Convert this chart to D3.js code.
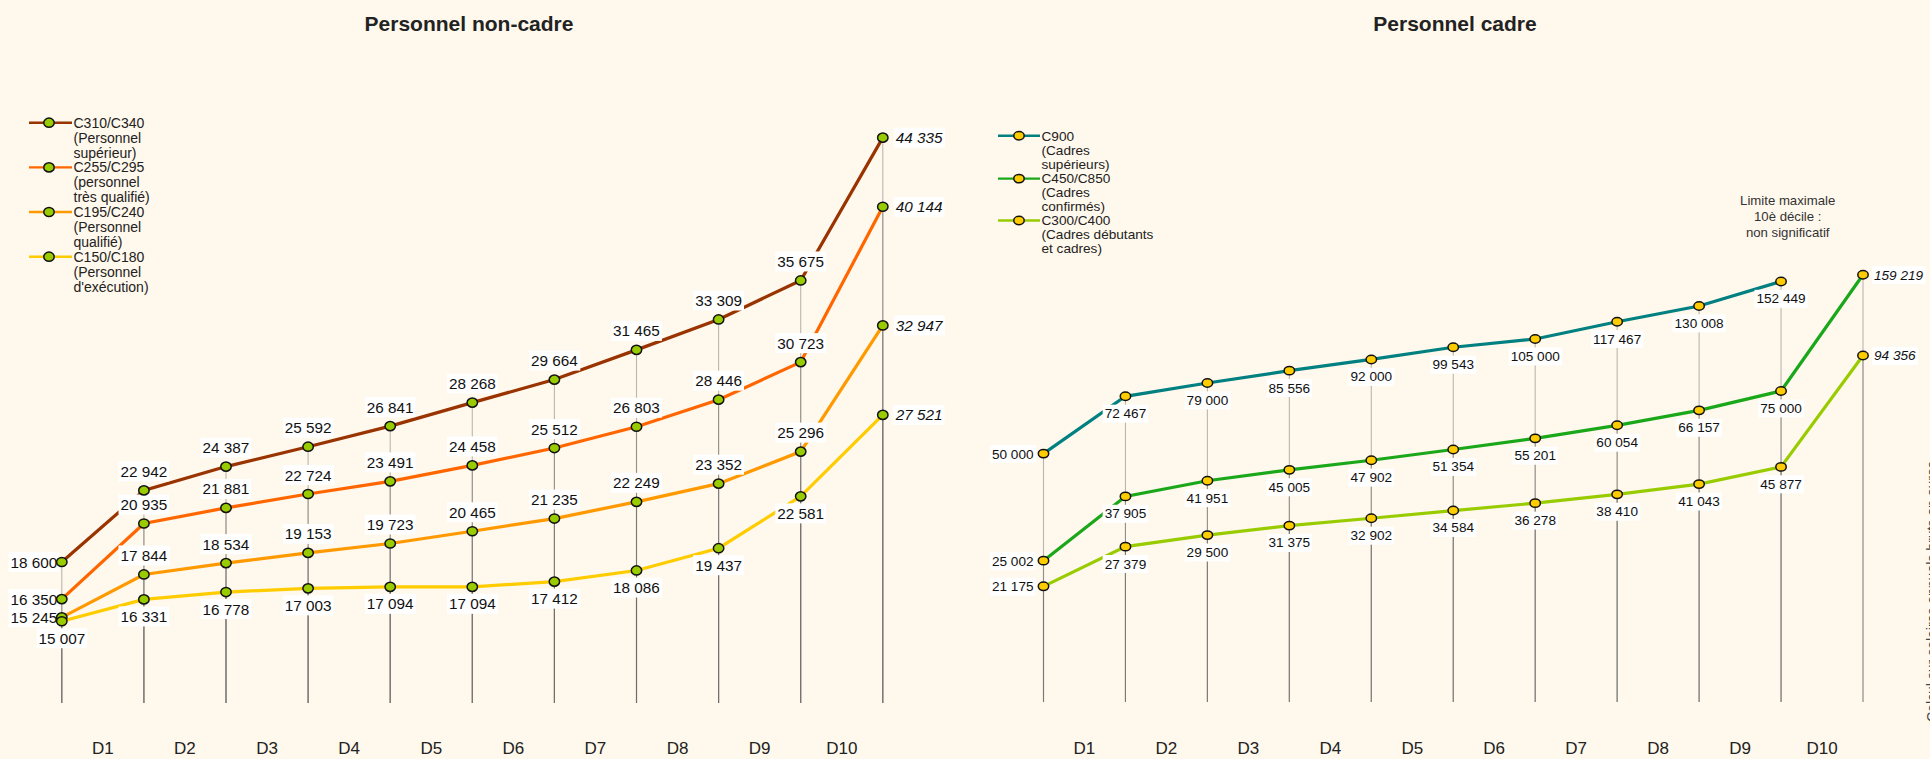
<!DOCTYPE html>
<html><head><meta charset="utf-8">
<script src="https://cdn.jsdelivr.net/npm/d3@7"></script>
<style>
body{margin:0;background:#fff8ec}
svg{display:block}
text{font-family:"Liberation Sans",Arial,sans-serif}
</style>
</head><body>
<svg id="chart" width="1930" height="759"></svg>
<script>
// ---------- DATA ----------
const deciles = ["D1","D2","D3","D4","D5","D6","D7","D8","D9","D10"];

const nonCadreTitle = "Personnel non-cadre";
const cadreTitle = "Personnel cadre";

const c310Label = ["C310/C340", "(Personnel", "supérieur)"];
const c310Values = [18600, 22942, 24387, 25592, 26841, 28268, 29664, 31465, 33309, 35675, 44335];
const c255Label = ["C255/C295", "(personnel", "très qualifié)"];
const c255Values = [16350, 20935, 21881, 22724, 23491, 24458, 25512, 26803, 28446, 30723, 40144];
const c195Label = ["C195/C240", "(Personnel", "qualifié)"];
const c195Values = [15245, 17844, 18534, 19153, 19723, 20465, 21235, 22249, 23352, 25296, 32947];
const c150Label = ["C150/C180", "(Personnel", "d'exécution)"];
const c150Values = [15007, 16331, 16778, 17003, 17094, 17094, 17412, 18086, 19437, 22581, 27521];

const c900Label = ["C900", "(Cadres", "supérieurs)"];
const c900Values = [50000, 72467, 79000, 85556, 92000, 99543, 105000, 117467, 130008, 152449, null];
const c450Label = ["C450/C850", "(Cadres", "confirmés)"];
const c450Values = [25002, 37905, 41951, 45005, 47902, 51354, 55201, 60054, 66157, 75000, 159219];
const c300Label = ["C300/C400", "(Cadres débutants", "et cadres)"];
const c300Values = [21175, 27379, 29500, 31375, 32902, 34584, 36278, 38410, 41043, 45877, 94356];

const noteLines = ["Limite maximale", "10è décile :", "non significatif"];
const sideNote = "Calcul sur salaires annuels bruts en euros";

// ---------- DRAW ----------
const svg = d3.select("#chart");
svg.append("rect").attr("width",1930).attr("height",759).attr("fill","#fff8ec");
const fmt = d3.formatLocale({decimal:",", thousands:" ", grouping:[3], currency:["","€"]}).format(",d");

function panel(opt){
  const g = svg.append("g");
  const x = d3.scaleLinear().domain([0, 10]).range(opt.xRange);
  const y = opt.y;

  g.append("text").attr("x", opt.titleX).attr("y", 31).attr("text-anchor","middle")
    .attr("font-size", 21).attr("font-weight","bold").attr("fill","#222").text(opt.title);

  // drop lines
  opt.series.forEach(s => {
    s.values.forEach((v,i) => {
      if (v == null) return;
      g.append("line").attr("x1", x(i)).attr("x2", x(i)).attr("y1", y(v)).attr("y2", opt.bottom)
        .attr("stroke", "#5a5a5a").attr("stroke-opacity", 0.42).attr("stroke-width", 1.1);
    });
  });

  // series lines
  const line = d3.line().defined(d => d.v != null).x(d => x(d.i)).y(d => y(d.v));
  opt.series.forEach(s => {
    g.append("path").datum(s.values.map((v,i)=>({i, v})))
      .attr("d", line).attr("fill","none").attr("stroke", s.color).attr("stroke-width", 3.2);
  });

  // value labels
  opt.series.forEach(s => {
    s.values.forEach((v,i) => {
      if (v == null) return;
      let pos = s.pos, italic = false;
      if (i === 0) pos = s.firstPos;
      if (i === 10) { pos = "right"; italic = true; }
      const px = x(i), py = y(v);
      const lg = g.append("g");
      const t = lg.append("text").attr("font-size", opt.labelSize).attr("fill","#111")
        .attr("font-style", italic ? "italic" : "normal").text(fmt(v));
      const half = opt.labelSize * 0.36;
      if (pos === "above") t.attr("x", px).attr("y", py - 19 + half).attr("text-anchor","middle");
      else if (pos === "below") t.attr("x", px).attr("y", py + 17 + half).attr("text-anchor","middle");
      else if (pos === "left") t.attr("x", px - opt.leftGap).attr("y", py + half).attr("text-anchor","end");
      else t.attr("x", px + opt.rightGap).attr("y", py + half).attr("text-anchor","start");
      const bb = t.node().getBBox();
      lg.insert("rect","text").attr("x", bb.x - 2).attr("y", bb.y - 1.5)
        .attr("width", bb.width + 4).attr("height", bb.height + 3).attr("fill","#ffffff");
    });
  });

  // markers
  opt.series.forEach(s => {
    s.values.forEach((v,i) => {
      if (v == null) return;
      g.append("ellipse").attr("cx", x(i)).attr("cy", y(v)).attr("rx", opt.mrx).attr("ry", opt.mry)
        .attr("fill", opt.markerFill).attr("stroke","#111").attr("stroke-width", 1.5);
    });
  });

  // decile labels
  deciles.forEach((d,i) => {
    g.append("text").attr("x", x(i + 0.5)).attr("y", 754).attr("text-anchor","middle")
      .attr("font-size", 17).attr("fill","#222").text(d);
  });

  // legend
  opt.series.forEach((s,k) => {
    const ly = opt.legend.y[k];
    g.append("line").attr("x1", opt.legend.x0).attr("x2", opt.legend.x1).attr("y1", ly).attr("y2", ly)
      .attr("stroke", s.color).attr("stroke-width", 2.4);
    g.append("ellipse").attr("cx", opt.legend.mx).attr("cy", ly).attr("rx", opt.mrx).attr("ry", opt.mry)
      .attr("fill", opt.markerFill).attr("stroke","#111").attr("stroke-width", 1.5);
    const t = g.append("text").attr("font-size", opt.legend.size).attr("fill","#222");
    s.label.forEach((l,j) => {
      t.append("tspan").attr("x", opt.legend.tx).attr("y", ly + opt.legend.size*0.36 + j*opt.legend.lh).text(l);
    });
  });
  return {x, y};
}

panel({
  title: nonCadreTitle, titleX: 469,
  xRange: [61.8, 882.8],
  y: d3.scaleLinear().domain([10000, 45000]).range([703.8, 126.7]),
  bottom: 703,
  labelSize: 15.3, leftGap: 4.5, rightGap: 13,
  mrx: 5.2, mry: 4.6, markerFill: "#99cc00",
  series: [
    {label: c310Label, values: c310Values, color: "#993300", pos: "above", firstPos: "left"},
    {label: c255Label, values: c255Values, color: "#ff6600", pos: "above", firstPos: "left"},
    {label: c195Label, values: c195Values, color: "#ff9900", pos: "above", firstPos: "left"},
    {label: c150Label, values: c150Values, color: "#ffcc00", pos: "below", firstPos: "below"}
  ],
  legend: {x0: 29, x1: 72, mx: 49, tx: 73.5, y: [122.7, 167.4, 212, 256.7], size: 14, lh: 14.9}
});

const right = panel({
  title: cadreTitle, titleX: 1455,
  xRange: [1043.5, 1863],
  y: d3.scaleLog().domain([10000, 200000]).range([702.2, 239.5]),
  bottom: 702,
  labelSize: 13.6, leftGap: 10, rightGap: 11,
  mrx: 5.2, mry: 4.2, markerFill: "#ffcc00",
  series: [
    {label: c900Label, values: c900Values, color: "#008080", pos: "below", firstPos: "left"},
    {label: c450Label, values: c450Values, color: "#1aa81a", pos: "below", firstPos: "left"},
    {label: c300Label, values: c300Values, color: "#99cc00", pos: "below", firstPos: "left"}
  ],
  legend: {x0: 998, x1: 1040, mx: 1019, tx: 1041.5, y: [135.7, 178.6, 220.5], size: 13.6, lh: 14}
});

// annotation
const note = svg.append("text").attr("font-size", 13.2).attr("fill","#333").attr("text-anchor","middle");
noteLines.forEach((l,j) => note.append("tspan").attr("x", 1787.7).attr("y", 205.3 + j*16).text(l));

// clipped side note
svg.append("text").attr("transform","translate(1937,722) rotate(-90)").attr("font-size",14)
  .attr("fill","#444").text(sideNote);
</script>
</body></html>
